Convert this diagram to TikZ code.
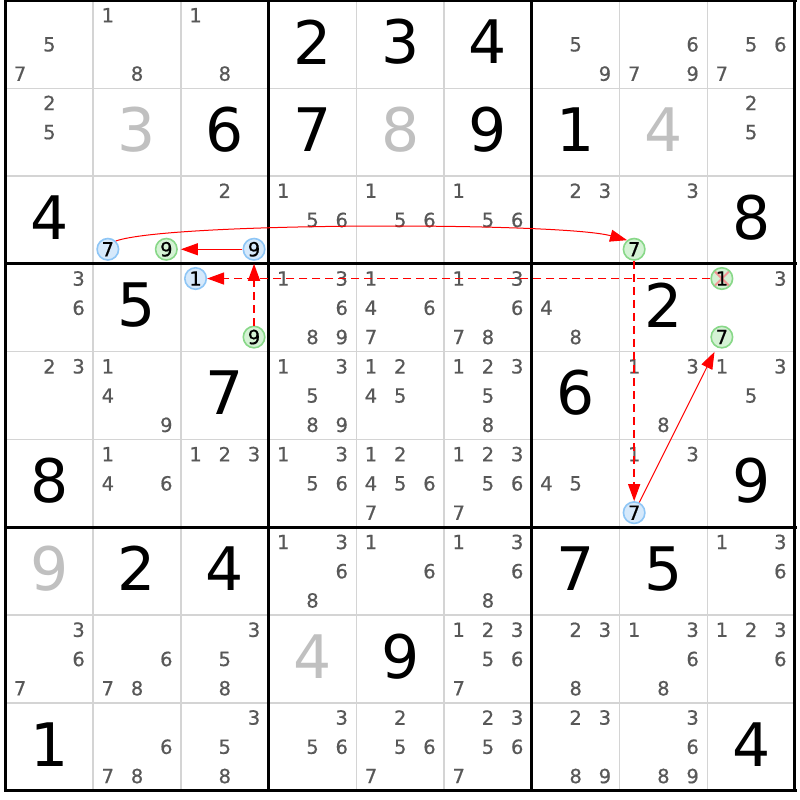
\documentclass[tikz,border=0pt]{standalone}
\usepackage{fontspec}
\setmainfont{DejaVu Sans}
\newfontface\candface{DejaVu Sans}[RawFeature={embolden=0.6}]
\usetikzlibrary{arrows.meta}
\definecolor{candgray}{RGB}{88,88,88}
\definecolor{solvedgray}{RGB}{192,192,192}
\definecolor{gridgray}{RGB}{212,212,212}
\definecolor{bluefl}{RGB}{214,233,251}
\definecolor{bluebd}{RGB}{142,198,246}
\definecolor{greenfl}{RGB}{212,242,212}
\definecolor{greenbd}{RGB}{136,216,136}
\definecolor{xred}{RGB}{244,150,150}
\tikzset{
  cand/.style={inner sep=0pt, text=candgray, font=\candface\fontsize{19.5}{21}\selectfont},
  bluec/.style={cand, circle, draw=bluebd, fill=bluefl, line width=1.6pt, minimum size=21.5pt, text=black},
  greenc/.style={cand, circle, draw=greenbd, fill=greenfl, line width=1.6pt, minimum size=21.5pt, text=black},
  crossed/.style={greenc, path picture={
     \draw[xred, line width=2pt]
       ([xshift=-8pt,yshift=-8pt]path picture bounding box.center) -- ([xshift=8pt,yshift=8pt]path picture bounding box.center)
       ([xshift=-8pt,yshift=8pt]path picture bounding box.center) -- ([xshift=8pt,yshift=-8pt]path picture bounding box.center);}},
  given/.style={inner sep=0pt, text=black, font=\fontsize{60}{60}\selectfont},
  solved/.style={given, text=solvedgray},
  thinline/.style={draw=gridgray, line width=1.5pt},
  thickline/.style={draw=black, line width=3pt},
  arr/.style={draw=red, line width=1pt, -{Triangle[length=17pt,width=12pt]}},
  dasharr/.style={arr, line width=1.5pt, dash pattern=on 8pt off 5pt}
}
\newcommand\cand[4][cand]{\node[#1] (k#2#3#4) at ({5.5+87.72*(#3+(mod(#4-1,3)+0.5)/3)},{0.5+87.8*(#2+(floor((#4-1)/3)+0.5)/3)}) {#4};}
\newcommand\cands[3]{\foreach \dd in {#3}{\cand{#1}{#2}{\dd}}}
\newcommand\given[4][given]{\node[#1] (g#2#3) at ({5.5+87.72*(#3+0.5)},{0.5+87.8*(#2+0.5)-2.5}) {#4};}
\begin{document}
\begin{tikzpicture}[x=1pt,y=-1pt]
\useasboundingbox (0,0) rectangle (800,800);
\fill[white] (0,0) rectangle (800,800);
% grid
\foreach \i in {1,2,4,5,7,8}{
  \draw[thinline] ({5.5+87.72*\i},0.5) -- ({5.5+87.72*\i},790.7);
  \draw[thinline] (5.5,{0.5+87.8*\i}) -- (795,{0.5+87.8*\i});
}
\foreach \i in {0,3,6,9}{
  \draw[thickline] ({5.5+87.72*\i},-1) -- ({5.5+87.72*\i},792.2);
  \draw[thickline] (4,{0.5+87.8*\i}) -- (796.5,{0.5+87.8*\i});
}
% row 0
\cands{0}{0}{5,7}\cands{0}{1}{1,8}\cands{0}{2}{1,8}
\given{0}{3}{2}\given{0}{4}{3}\given{0}{5}{4}
\cands{0}{6}{5,9}\cands{0}{7}{6,7,9}\cands{0}{8}{5,6,7}
% row 1
\cands{1}{0}{2,5}\given[solved]{1}{1}{3}\given{1}{2}{6}\given{1}{3}{7}
\given[solved]{1}{4}{8}\given{1}{5}{9}\given{1}{6}{1}\given[solved]{1}{7}{4}
\cands{1}{8}{2,5}
% row 2
\given{2}{0}{4}
\cand[bluec]{2}{1}{7}\cand[greenc]{2}{1}{9}
\cands{2}{2}{2}\cand[bluec]{2}{2}{9}
\cands{2}{3}{1,5,6}\cands{2}{4}{1,5,6}\cands{2}{5}{1,5,6}
\cands{2}{6}{2,3}\cands{2}{7}{3}\cand[greenc]{2}{7}{7}
\given{2}{8}{8}
% row 3
\cands{3}{0}{3,6}\given{3}{1}{5}
\cand[bluec]{3}{2}{1}\cand[greenc]{3}{2}{9}
\cands{3}{3}{1,3,6,8,9}\cands{3}{4}{1,4,6,7}\cands{3}{5}{1,3,6,7,8}
\cands{3}{6}{4,8}\given{3}{7}{2}
\cand[crossed]{3}{8}{1}\cands{3}{8}{3}\cand[greenc]{3}{8}{7}
% row 4
\cands{4}{0}{2,3}\cands{4}{1}{1,4,9}\given{4}{2}{7}
\cands{4}{3}{1,3,5,8,9}\cands{4}{4}{1,2,4,5}\cands{4}{5}{1,2,3,5,8}
\given{4}{6}{6}\cands{4}{7}{1,3,8}\cands{4}{8}{1,3,5}
% row 5
\given{5}{0}{8}\cands{5}{1}{1,4,6}\cands{5}{2}{1,2,3}
\cands{5}{3}{1,3,5,6}\cands{5}{4}{1,2,4,5,6,7}\cands{5}{5}{1,2,3,5,6,7}
\cands{5}{6}{4,5}\cands{5}{7}{1,3}\cand[bluec]{5}{7}{7}\given{5}{8}{9}
% row 6
\given[solved]{6}{0}{9}\given{6}{1}{2}\given{6}{2}{4}
\cands{6}{3}{1,3,6,8}\cands{6}{4}{1,6}\cands{6}{5}{1,3,6,8}
\given{6}{6}{7}\given{6}{7}{5}\cands{6}{8}{1,3,6}
% row 7
\cands{7}{0}{3,6,7}\cands{7}{1}{6,7,8}\cands{7}{2}{3,5,8}
\given[solved]{7}{3}{4}\given{7}{4}{9}\cands{7}{5}{1,2,3,5,6,7}
\cands{7}{6}{2,3,8}\cands{7}{7}{1,3,6,8}\cands{7}{8}{1,2,3,6}
% row 8
\given{8}{0}{1}\cands{8}{1}{6,7,8}\cands{8}{2}{3,5,8}
\cands{8}{3}{3,5,6}\cands{8}{4}{2,5,6,7}\cands{8}{5}{2,3,5,6,7}
\cands{8}{6}{2,3,8,9}\cands{8}{7}{3,6,8,9}\given{8}{8}{4}
% links
\draw[arr] (k217.46) .. controls (170,222) and (560,222) .. (k277.128);
\draw[arr, shorten >=3pt] (k229) -- (k219);
\draw[dasharr, shorten >=3pt] (k329) -- (k229);
\draw[dasharr] (k381) -- (k321);
\draw[dasharr] (k277) -- (k577);
\draw[arr, shorten >=5pt] (k577) -- (k387);
\end{tikzpicture}
\end{document}
